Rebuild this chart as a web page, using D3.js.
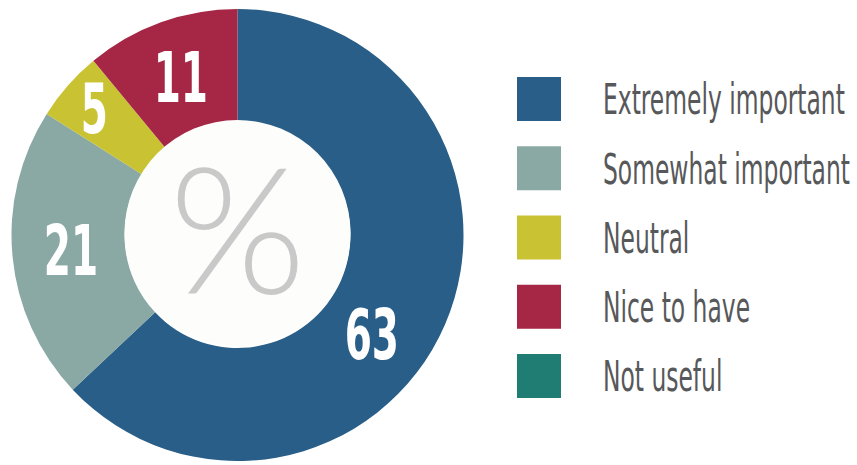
<!DOCTYPE html>
<html>
<head>
<meta charset="utf-8">
<script src="https://cdn.jsdelivr.net/npm/d3@7"></script>
<style>
  html, body { margin: 0; padding: 0; background: #ffffff; }
  svg { display: block; }
</style>
</head>
<body>
<svg id="chart" width="857" height="465"></svg>
<script>
// Survey answers, in percent
const categories = ["Extremely important", "Somewhat important", "Neutral", "Nice to have", "Not useful"];
const values = [63, 21, 5, 11, 0];
const colors = ["#285e87", "#8aa9a5", "#c9c232", "#a52745", "#1f7d74"];

const width = 857, height = 465;
const cx = 237.5, cy = 235;
const outerR = 226, innerR = 113;

const svg = d3.select("#chart");

const color = d3.scaleOrdinal().domain(categories).range(colors);

const pie = d3.pie()
  .value(d => d.value)
  .sort(null);

const data = categories.map((c, i) => ({ name: c, value: values[i] }));
const arcs = pie(data);

const arc = d3.arc().innerRadius(innerR).outerRadius(outerR);

const g = svg.append("g").attr("transform", `translate(${cx},${cy})`);

g.selectAll("path.slice")
  .data(arcs.filter(d => d.value > 0))
  .join("path")
  .attr("class", "slice")
  .attr("d", arc)
  .attr("fill", d => color(d.data.name));

// white hole with a large light percent sign
g.append("circle").attr("r", innerR).attr("cy", -2).attr("fill", "#fdfdfb");

g.append("text")
  .attr("x", 0)
  .attr("y", 0)
  .attr("text-anchor", "middle")
  .attr("dominant-baseline", "central")
  .attr("font-family", "Lato, 'Open Sans', 'DejaVu Sans', sans-serif")
  .attr("font-weight", 300)
  .attr("font-size", 176)
  .attr("fill", "#c9c9c9")
  .attr("transform", "translate(0,-10)")
  .text("%");

// value labels inside the ring
const labelFont = "'DejaVu Sans Condensed', 'Liberation Sans Narrow', sans-serif";
const total = d3.sum(values);
g.selectAll("text.value")
  .data(arcs.filter(d => d.value > 0))
  .join("text")
  .attr("class", "value")
  .attr("transform", d => {
    const span = d.endAngle - d.startAngle;
    const share = d.value / total;
    // large slices carry their label past the middle, thin ones push it outward
    const a = span > Math.PI ? d.startAngle + span * 0.558 : (d.startAngle + d.endAngle) / 2;
    const r = share < 0.08 ? innerR + (outerR - innerR) * 0.69 : innerR + (outerR - innerR) * 0.48;
    const x = r * Math.sin(a), y = -r * Math.cos(a);
    return `translate(${x},${y}) scale(0.62,1)`;
  })
  .attr("text-anchor", "middle")
  .attr("dominant-baseline", "central")
  .attr("font-family", labelFont)
  .attr("font-weight", 700)
  .attr("font-size", 70)
  .attr("fill", "#ffffff")
  .text(d => d.value);

// legend
const legendX = 517, sw = 44;
const ly = d3.scalePoint().domain(categories).range([77, 354]);

const legend = svg.append("g");
const item = legend.selectAll("g.item")
  .data(categories)
  .join("g")
  .attr("class", "item")
  .attr("transform", d => `translate(${legendX},${ly(d)})`);

item.append("rect")
  .attr("width", sw)
  .attr("height", sw)
  .attr("fill", d => color(d));

const labels = item.append("text")
  .attr("dominant-baseline", "central")
  .attr("font-family", "'DejaVu Sans Condensed', sans-serif")
  .attr("font-size", 42)
  .attr("fill", "#57585a")
  .text(d => d);

// squeeze the legend type so the longest label fits the space to the right edge
const widest = d3.max(labels.nodes(), n => n.getComputedTextLength());
const sx = 247 / widest;
labels.attr("transform", `translate(86,${sw / 2 + 1}) scale(${sx},1)`);
</script>
</body>
</html>
